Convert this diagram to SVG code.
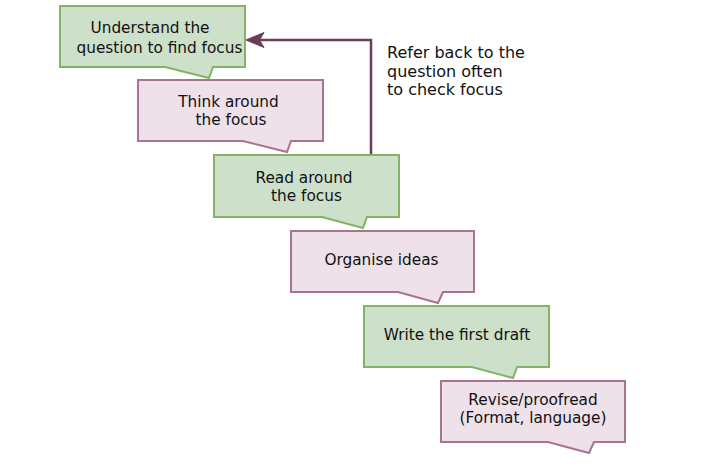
<svg xmlns="http://www.w3.org/2000/svg" width="725" height="469" viewBox="0 0 725 469">
<style>
.g{fill:#cde0ca;stroke:#82b366;stroke-width:2}
.p{fill:#eee1e9;stroke:#a87490;stroke-width:2}
text{font-family:"DejaVu Sans",Verdana,sans-serif;font-size:15.3px;fill:#111;text-anchor:middle}
.note{text-anchor:start;font-size:16px}
</style>
<rect width="725" height="469" fill="#fff"/>
<g id="connectors">
<path d="M371,155 V40 H258" fill="none" stroke="#6b3d5a" stroke-width="2.5"/>
<path d="M246,40 L264,32.5 L259.5,40 L264,47.5 Z" fill="#6b3d5a" stroke="#6b3d5a" stroke-width="1"/>
</g>
<g id="step1">
<path class="g" d="M60,6 H245 V67 H213 L209,78 L165,67 H60 Z"/>
<text x="150" y="33">Understand the</text>
<text x="159.5" y="52.5">question to find focus</text>
</g>
<g id="step2">
<path class="p" d="M138,80 H323 V141 H291 L287,152 L243,141 H138 Z"/>
<text x="228.5" y="106.5">Think around</text>
<text x="231" y="124.5">the focus</text>
</g>
<g id="step3">
<path class="g" d="M214,155 H399 V217 H367 L363,228 L322,217 H214 Z"/>
<text x="304" y="183">Read around</text>
<text x="306.5" y="201">the focus</text>
</g>
<g id="step4">
<path class="p" d="M291,231 H474 V292 H443 L438,303 L398,292 H291 Z"/>
<text x="381.5" y="265">Organise ideas</text>
</g>
<g id="step5">
<path class="g" d="M364,306 H549 V367 H517 L513,378 L472,367 H364 Z"/>
<text x="457" y="340">Write the first draft</text>
</g>
<g id="step6">
<path class="p" d="M441,381 H625 V442 H594 L589,453 L548,442 H441 Z"/>
<text x="533" y="405">Revise/proofread</text>
<text x="533" y="423">(Format, language)</text>
</g>
<g id="annotation">
<text class="note" x="387" y="58">Refer back to the</text>
<text class="note" x="387" y="76.5">question often</text>
<text class="note" x="387" y="95">to check focus</text>
</g>
</svg>
